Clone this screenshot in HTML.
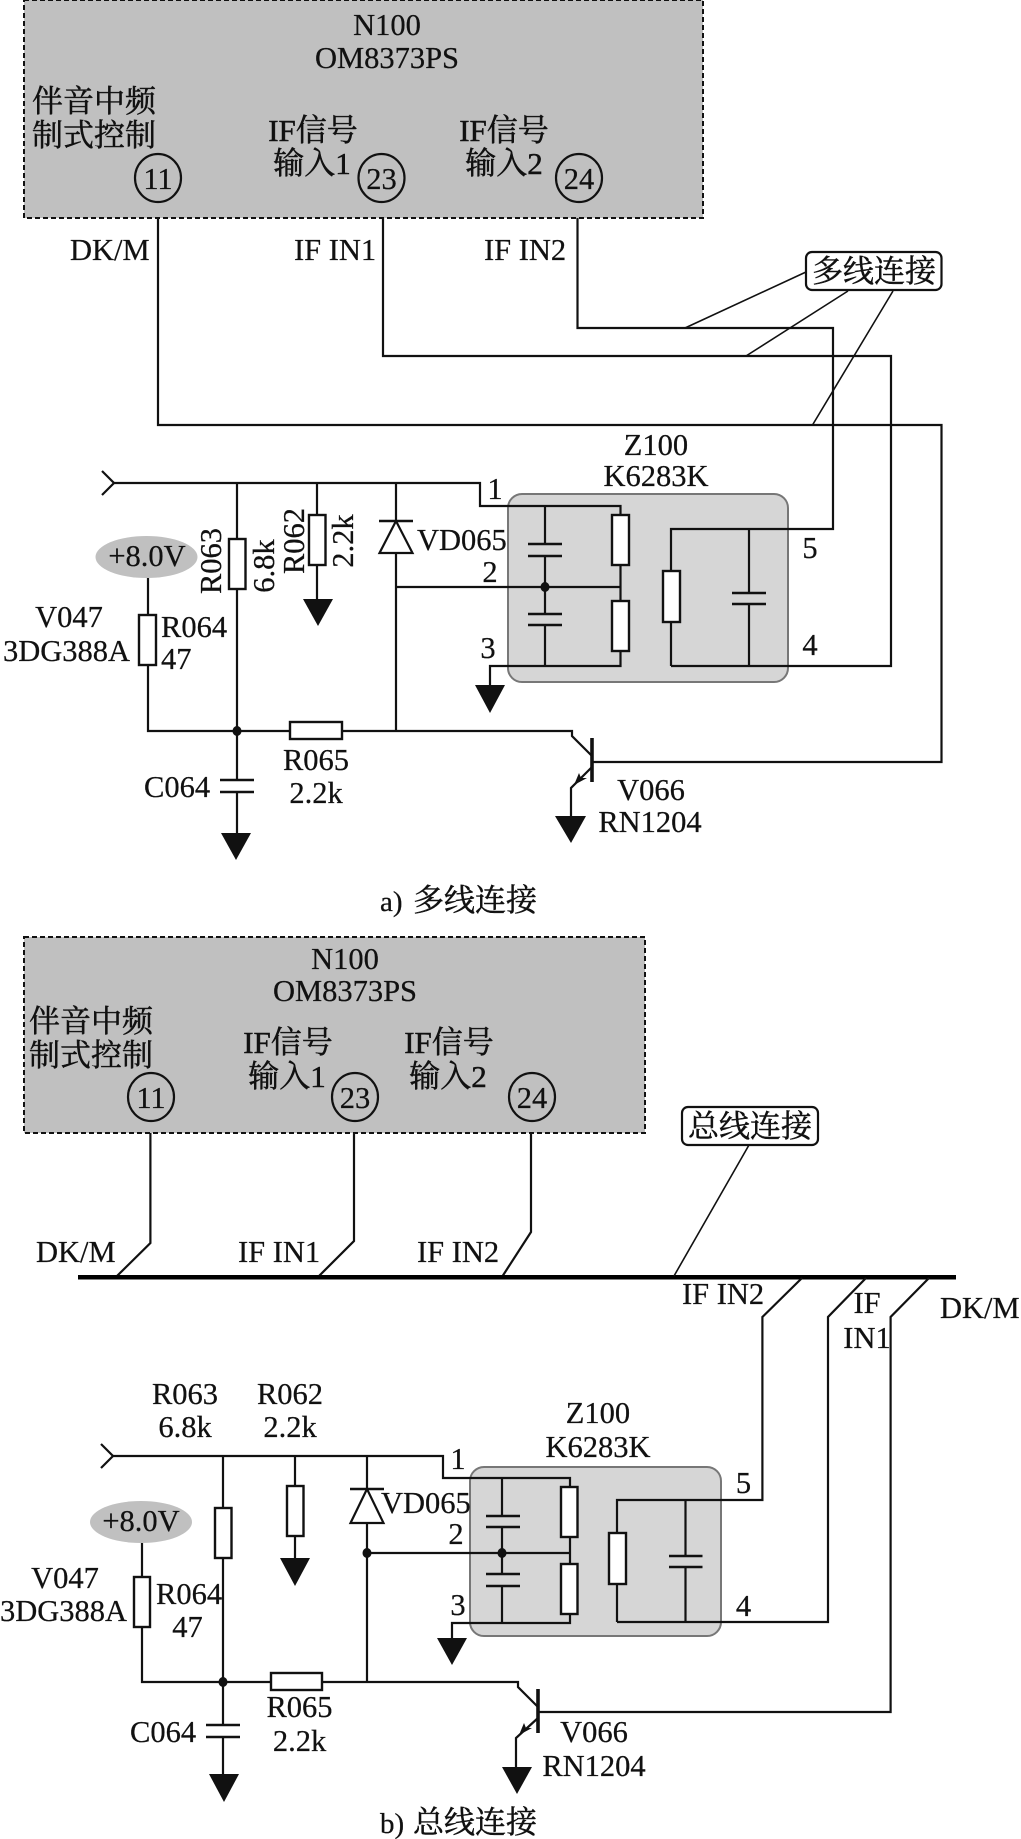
<!DOCTYPE html>
<html><head><meta charset="utf-8"><style>
html,body{margin:0;padding:0;background:#fff;width:1021px;height:1839px;overflow:hidden}
svg{display:block}
text{font-family:"Liberation Serif","Noto Serif CJK SC",serif;font-size:30.500px;fill:#111;stroke:#111;stroke-width:.25px}
.c{text-anchor:middle}
.z{font-size:31px;stroke-width:.5px}
.l{fill:none;stroke:#111;stroke-width:2.200}
.t{fill:none;stroke:#111;stroke-width:1.600}
.r{fill:#fff;stroke:#111;stroke-width:2.400}
.k{fill:#111;stroke:none}
.n{fill:none;stroke:#111;stroke-width:2.600}
.b{fill:none;stroke:#111;stroke-width:3.600}
</style></head><body>
<svg xmlns="http://www.w3.org/2000/svg" width="1021" height="1839" viewBox="0 0 1021 1839">
<rect width="1021" height="1839" fill="#fff"/>

<!-- ============ A ============ -->
<rect x="24" y="0" width="679" height="218" fill="#c0c0c0" stroke="#111" stroke-width="2" stroke-dasharray="5 3"/>
<text class="c" x="387" y="35">N100</text>
<text class="c" x="387" y="68">OM8373PS</text>
<text class="c z" x="94" y="112">伴音中频</text>
<text class="c z" x="94" y="146">制式控制</text>
<text class="c z" x="313" y="141">IF信号</text>
<text class="c z" x="312" y="174">输入1</text>
<text class="c z" x="504" y="141">IF信号</text>
<text class="c z" x="504" y="174">输入2</text>
<ellipse cx="158" cy="178" rx="23" ry="24" class="l"/><text class="c" x="158" y="189">11</text>
<ellipse cx="381.500" cy="178" rx="23" ry="24" class="l"/><text class="c" x="381.500" y="189">23</text>
<ellipse cx="579" cy="178" rx="23" ry="24" class="l"/><text class="c" x="579" y="189">24</text>

<text x="70" y="260">DK/M</text>
<text x="294" y="260">IF IN1</text>
<text x="484" y="260">IF IN2</text>

<rect x="508" y="494" width="280" height="188" rx="14" fill="#d6d6d6" stroke="#777" stroke-width="2"/>

<path class="l" d="M158 218V425H941.500V762H592"/>
<path class="l" d="M383 218V356H891V666H671"/>
<path class="l" d="M577.500 218V328H833V529H671V666"/>

<rect x="806" y="252" width="135.500" height="38" rx="6" fill="#fff" stroke="#111" stroke-width="2.200"/>
<text class="c z" x="874" y="282">多线连接</text>
<path class="t" d="M806 272L685 328M848 291L746 356M893 291L812.500 425"/>

<text class="c" x="656" y="455">Z100</text>
<text class="c" x="656" y="486">K6283K</text>

<path class="l" d="M102 471L114 483L102 495"/>
<path class="l" d="M114 483H480V506H620.500V666H490V685"/>
<path class="l" d="M237 483V833M317 483V600M396 483V731M396 587H620.500M545 506V666"/>
<path class="l" d="M749 529V666"/>
<path class="l" d="M148 578V731H572V736L592 756M592 767L571 788V816"/>
<!-- caps -->
<rect x="540" y="545" width="10" height="10" fill="#d6d6d6"/><rect x="540" y="615" width="10" height="9" fill="#d6d6d6"/>
<rect x="744" y="594" width="10" height="9" fill="#d6d6d6"/><rect x="232" y="781" width="10" height="10" fill="#fff"/>
<path class="n" d="M528 544H562M528 556H562M528 614H562M528 625H562M732 593H766M732 604H766M220 780H254M220 792H254"/>
<!-- resistors -->
<rect class="r" x="229" y="539" width="16.500" height="50"/>
<rect class="r" x="309" y="515" width="16.500" height="50"/>
<rect class="r" x="612" y="515" width="17" height="50"/>
<rect class="r" x="612" y="601" width="17" height="50"/>
<rect class="r" x="663" y="571" width="17" height="51"/>
<rect class="r" x="139" y="615" width="17" height="50"/>
<rect class="r" x="290" y="722" width="52" height="17"/>
<!-- diode -->
<path fill="#fff" stroke="#111" stroke-width="2.200" d="M396 521L379.500 553H412.500Z"/>
<path class="n" d="M379 521H413"/>
<!-- dots -->
<ellipse cx="545" cy="587" rx="4.500" ry="5" class="k"/>
<ellipse cx="237" cy="731" rx="4.500" ry="5" class="k"/>
<!-- grounds -->
<path class="k" d="M303 599H333L318 626Z"/>
<path class="k" d="M475 685H505L490 713Z"/>
<path class="k" d="M221 833H251L236 860Z"/>
<path class="k" d="M555 816H586L571 843Z"/>
<!-- transistor -->
<path class="b" d="M592 738V782"/>
<path class="k" d="M574 785L579 773L581 778L587 778Z"/>

<ellipse cx="146.500" cy="557" rx="51" ry="21" fill="#c0c0c0"/>
<text class="c" x="147" y="566">+8.0V</text>

<text x="417" y="550">VD065</text>
<text class="c" x="495" y="499">1</text>
<text class="c" x="490" y="582">2</text>
<text class="c" x="488" y="658">3</text>
<text class="c" x="810" y="558">5</text>
<text class="c" x="810" y="655">4</text>
<text class="c" transform="translate(221 561) rotate(-90)">R063</text>
<text class="c" transform="translate(274 566) rotate(-90)">6.8k</text>
<text class="c" transform="translate(304 541) rotate(-90)">R062</text>
<text class="c" transform="translate(353 541) rotate(-90)">2.2k</text>
<text class="c" x="69" y="627">V047</text>
<text x="3" y="661">3DG388A</text>
<text x="161" y="637">R064</text>
<text x="161" y="669">47</text>
<text class="c" x="316" y="770">R065</text>
<text class="c" x="316" y="803">2.2k</text>
<text x="144" y="797">C064</text>
<text class="c" x="651" y="800">V066</text>
<text class="c" x="650" y="832">RN1204</text>
<text x="380" y="911" style="font-size:29px">a)</text>
<text class="z" x="413" y="911">多线连接</text>

<!-- ============ B ============ -->
<rect x="24" y="937" width="621" height="196" fill="#c0c0c0" stroke="#111" stroke-width="2" stroke-dasharray="5 3"/>
<text class="c" x="345" y="969">N100</text>
<text class="c" x="345" y="1001">OM8373PS</text>
<text class="c z" x="91" y="1032">伴音中频</text>
<text class="c z" x="91" y="1066">制式控制</text>
<text class="c z" x="288" y="1053">IF信号</text>
<text class="c z" x="287" y="1087">输入1</text>
<text class="c z" x="449" y="1053">IF信号</text>
<text class="c z" x="448" y="1087">输入2</text>
<ellipse cx="151" cy="1097" rx="23" ry="24" class="l"/><text class="c" x="151" y="1108">11</text>
<ellipse cx="355" cy="1097" rx="23" ry="24" class="l"/><text class="c" x="355" y="1108">23</text>
<ellipse cx="532" cy="1097" rx="23" ry="24" class="l"/><text class="c" x="532" y="1108">24</text>

<path class="l" d="M150.400 1133V1243L117 1276M354 1133V1241L319 1276M531 1133V1232L502.600 1276"/>
<rect x="78" y="1275" width="878" height="4.500" fill="#000"/>
<text x="36" y="1262">DK/M</text>
<text x="238" y="1262">IF IN1</text>
<text x="417" y="1262">IF IN2</text>

<rect x="682" y="1107" width="136" height="38" rx="6" fill="#fff" stroke="#111" stroke-width="2.200"/>
<text class="c z" x="750" y="1137">总线连接</text>
<path class="t" d="M749 1145L674 1276"/>

<text x="682" y="1304">IF IN2</text>
<text class="c" x="867" y="1313">IF</text>
<text class="c" x="867" y="1348">IN1</text>
<text x="940" y="1318">DK/M</text>

<rect x="470" y="1467" width="251" height="169" rx="14" fill="#d6d6d6" stroke="#777" stroke-width="2"/>
<path class="l" d="M802 1278L762.400 1317V1500H617V1622"/>
<path class="l" d="M866 1278L828 1317V1622H617"/>
<path class="l" d="M929 1278L890.600 1317V1712H538"/>
<text class="c" x="185" y="1404">R063</text>
<text class="c" x="185" y="1437">6.8k</text>
<text class="c" x="290" y="1404">R062</text>
<text class="c" x="290" y="1437">2.2k</text>
<text class="c" x="598" y="1423">Z100</text>
<text class="c" x="598" y="1457">K6283K</text>

<path class="l" d="M101 1444L113 1456L101 1468"/>
<path class="l" d="M113 1456H443V1478H570V1623H452V1638"/>
<path class="l" d="M223 1456V1774M295 1456V1558M367 1456V1682M367 1553H570M502 1478V1623M685.500 1500V1622"/>
<path class="l" d="M142 1543V1682H518V1687L538 1707M538 1718L516 1738V1767"/>
<!-- caps -->
<rect x="498" y="1517" width="9" height="9" fill="#d6d6d6"/><rect x="498" y="1575" width="9" height="10" fill="#d6d6d6"/>
<rect x="681" y="1557" width="9" height="9" fill="#d6d6d6"/><rect x="218" y="1726" width="10" height="10" fill="#fff"/>
<path class="n" d="M486 1516H520M486 1527H520M486 1574H520M486 1586H520M669 1556H702.500M669 1567H702.500M206 1725H240M206 1737H240"/>
<!-- resistors -->
<rect class="r" x="215" y="1508" width="16.500" height="50"/>
<rect class="r" x="287" y="1486" width="16.500" height="50"/>
<rect class="r" x="561" y="1487" width="16.500" height="50"/>
<rect class="r" x="561" y="1564" width="16.500" height="50"/>
<rect class="r" x="609" y="1533" width="17" height="51"/>
<rect class="r" x="134" y="1577" width="16" height="50"/>
<rect class="r" x="271" y="1673" width="51" height="17"/>
<!-- diode -->
<path fill="#fff" stroke="#111" stroke-width="2.200" d="M367 1489L350.500 1523H383.500Z"/>
<path class="n" d="M350 1489H384"/>
<!-- dots -->
<ellipse cx="367" cy="1553" rx="4.500" ry="5" class="k"/>
<ellipse cx="502" cy="1553" rx="4.500" ry="5" class="k"/>
<ellipse cx="223" cy="1682" rx="4.500" ry="5" class="k"/>
<!-- grounds -->
<path class="k" d="M280 1558H310L295 1586Z"/>
<path class="k" d="M437 1638H467L452 1665Z"/>
<path class="k" d="M209 1774H239L224 1802Z"/>
<path class="k" d="M502 1767H532L517 1794Z"/>
<!-- transistor -->
<path class="b" d="M538 1689V1733"/>
<path class="k" d="M519 1735L524 1723L526 1728L532 1728Z"/>

<ellipse cx="141" cy="1522" rx="51" ry="21" fill="#c0c0c0"/>
<text class="c" x="141" y="1531">+8.0V</text>

<text x="381" y="1513">VD065</text>
<text class="c" x="458" y="1469">1</text>
<text class="c" x="456" y="1544">2</text>
<text class="c" x="458" y="1615">3</text>
<text class="c" x="743.500" y="1493">5</text>
<text class="c" x="743.500" y="1616">4</text>
<text class="c" x="65" y="1588">V047</text>
<text x="0" y="1621">3DG388A</text>
<text x="156" y="1604">R064</text>
<text class="c" x="187.500" y="1637">47</text>
<text class="c" x="299.500" y="1717">R065</text>
<text class="c" x="299.500" y="1751">2.2k</text>
<text x="130" y="1742">C064</text>
<text class="c" x="594" y="1742">V066</text>
<text class="c" x="594" y="1776">RN1204</text>
<text x="380" y="1833" style="font-size:29px">b)</text>
<text class="z" x="413" y="1833">总线连接</text>
</svg>
</body></html>
